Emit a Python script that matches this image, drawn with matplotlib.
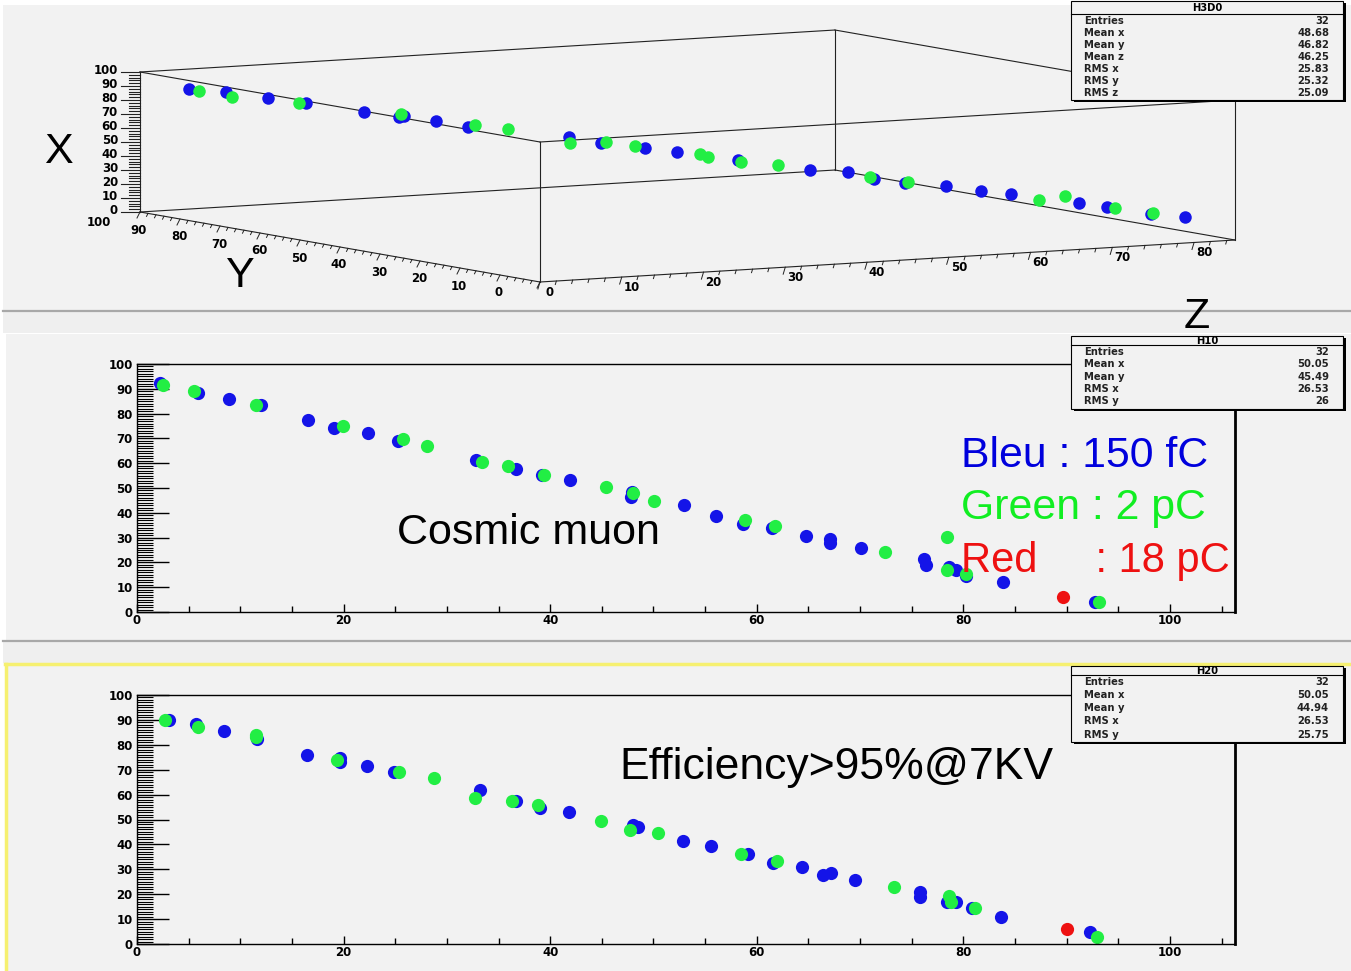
import numpy as np
import matplotlib
matplotlib.use('Agg')
import matplotlib.pyplot as plt
from matplotlib.patches import Rectangle
from matplotlib.ticker import MultipleLocator

W, H = 1351, 971

# ---- top pad: H3D0, points as (X, Y, Z)
b3_x = [88.5, 87.1, 84.0, 80.7, 75.3, 72.4, 73.4, 70.6, 66.9, 61.2, 57.9, 54.7, 52.4,
        48.1, 42.2, 41.7, 36.8, 34.9, 33.5, 30.6, 28.5, 23.5, 21.0, 17.1, 15.7]
b3_y = [95.6, 92.1, 88.3, 84.8, 79.5, 76.3, 75.9, 73.0, 70.0, 60.8, 57.9, 53.9, 51.0,
        45.4, 38.8, 35.3, 32.9, 30.1, 26.4, 23.2, 20.5, 14.3, 11.7, 7.6, 4.6]
b3_z = [3.8, 6.7, 9.9, 12.9, 17.4, 20.1, 20.5, 23.0, 25.5, 33.3, 35.8, 39.2, 41.7,
        46.4, 52.0, 55.0, 57.0, 59.4, 62.6, 65.3, 67.6, 72.9, 75.1, 78.5, 81.1]
g3_x = [87.7, 83.6, 81.0, 74.6, 68.3, 66.0, 57.4, 58.3, 56.2, 51.5, 49.9, 46.9, 45.2,
        38.1, 35.7, 25.0, 28.3, 20.5, 18.0]
g3_y = [94.6, 91.6, 85.5, 76.2, 69.5, 66.4, 60.7, 57.4, 54.8, 48.8, 48.2, 45.1, 41.7,
        33.3, 29.9, 17.9, 15.5, 10.9, 7.5]
g3_z = [4.6, 7.2, 12.3, 20.3, 26.0, 28.6, 33.4, 36.2, 38.4, 43.5, 44.1, 46.7, 49.5,
        56.7, 59.6, 69.8, 71.8, 75.7, 78.6]

# ---- middle pad: H10
h10_blue_x = [2.2, 5.9, 8.9, 12.0, 16.6, 19.1, 22.4, 25.3, 32.8, 36.7, 39.2, 41.9, 47.9, 47.8, 53.0,
              56.1, 58.7, 61.5, 64.8, 67.1, 67.1, 70.1, 76.2, 76.4, 78.6, 79.3, 80.3, 83.8, 92.7]
h10_blue_y = [92.3, 88.4, 86.0, 83.6, 77.3, 74.3, 72.0, 69.1, 61.3, 57.7, 55.1, 53.1, 48.5, 46.4, 43.3,
              38.8, 35.4, 33.8, 30.7, 29.4, 27.8, 25.7, 21.4, 19.0, 18.0, 17.1, 14.4, 12.0, 4.0]
h10_green_x = [2.5, 5.5, 11.5, 19.9, 25.8, 28.1, 33.4, 35.9, 39.4, 45.4, 48.0, 50.1,
               58.9, 61.8, 72.4, 78.4, 78.4, 80.3, 93.1]
h10_green_y = [91.6, 89.1, 83.6, 75.1, 69.6, 67.1, 60.4, 58.8, 55.1, 50.3, 48.0, 44.9,
               37.2, 34.5, 24.1, 30.1, 17.1, 15.4, 4.0]
h10_red_x = [89.6]
h10_red_y = [6.0]

# ---- bottom pad: H20
h20_blue_x = [3.1, 5.7, 8.4, 11.6, 16.5, 19.7, 19.7, 22.3, 24.9, 33.2, 36.7, 39.0, 41.8, 48.0, 48.5,
              52.9, 55.6, 59.2, 61.6, 64.4, 66.4, 67.2, 69.5, 75.8, 75.8, 78.4, 79.3, 80.8, 83.6, 92.3]
h20_blue_y = [90.0, 88.4, 85.4, 82.3, 76.0, 74.6, 73.0, 71.4, 68.9, 61.9, 57.6, 54.5, 52.9, 47.8, 47.1,
              41.4, 39.4, 36.1, 32.4, 30.8, 27.7, 28.4, 25.7, 21.0, 18.7, 17.0, 17.0, 14.3, 10.7, 4.7]
h20_green_x = [2.7, 5.9, 11.5, 11.5, 19.4, 25.4, 28.8, 32.7, 36.3, 38.8, 44.9, 47.7, 50.4,
               58.5, 62.0, 73.3, 78.6, 78.8, 81.1, 92.9]
h20_green_y = [90.0, 87.0, 84.1, 83.0, 74.0, 68.9, 66.7, 58.6, 57.6, 56.0, 49.3, 45.9, 44.6,
               36.1, 33.5, 23.0, 19.3, 17.0, 14.3, 2.9]
h20_red_x = [90.0]
h20_red_y = [6.0]

stats_h3d = [('Entries', '32'), ('Mean x', '48.68'), ('Mean y', '46.82'), ('Mean z', '46.25'),
             ('RMS x', '25.83'), ('RMS y', '25.32'), ('RMS z', '25.09')]
stats_h10 = [('Entries', '32'), ('Mean x', '50.05'), ('Mean y', '45.49'), ('RMS x', '26.53'), ('RMS y', '26')]
stats_h20 = [('Entries', '32'), ('Mean x', '50.05'), ('Mean y', '44.94'), ('RMS x', '26.53'), ('RMS y', '25.75')]

BLUE = '#1414e8'
GREEN = '#22ee44'
RED = '#ee1111'
PAD = '#f2f2f2'
TICKFONT = dict(family='DejaVu Sans', weight='bold', size=8.5)
STATFONT = dict(family='DejaVu Sans', weight='bold', size=7.2)
BIGFONT = 'Liberation Sans'


def add_px_axes(fig, left, top, right, bottom, **kw):
    return fig.add_axes([left / W, 1 - bottom / H, (right - left) / W, (bottom - top) / H], **kw)


def proj(x, y, z):
    # oblique projection of the ROOT 3D frame into pixel coordinates
    x, y, z = np.asarray(x), np.asarray(y), np.asarray(z)
    sx = 540 - 4.0 * y + 8.176 * z
    sy = 282 - 0.7 * y - 0.494 * z - 1.4 * x
    return sx, sy


def draw_stats(ax, left, top, div, right, bottom, title, rows):
    ax.add_patch(Rectangle((left + 2.5, top + 2.5), right - left, bottom - top, fc='black', ec='none', zorder=5))
    ax.add_patch(Rectangle((left, top), right - left, bottom - top, fc=PAD, ec='black', lw=0.8, zorder=6))
    ax.plot([left, right], [div, div], color='black', lw=0.8, zorder=7)
    ax.text((left + right) / 2, (top + div) / 2 + 0.5, title, ha='center', va='center',
            zorder=7, **STATFONT)
    ys = np.linspace(div + 7, bottom - 7.5, len(rows))
    for (name, val), yy in zip(rows, ys):
        ax.text(left + 13, yy, name, ha='left', va='center', color='#222222', zorder=7, **STATFONT)
        ax.text(right - 14, yy, val, ha='right', va='center', color='#222222', zorder=7, **STATFONT)


def style_2d(ax):
    ax.set_xlim(0, 106.3)
    ax.set_ylim(0, 100)
    ax.set_facecolor('none')
    for s in ['left', 'bottom', 'top']:
        ax.spines[s].set_linewidth(1.0)
    ax.spines['right'].set_linewidth(2.0)
    ax.xaxis.set_major_locator(MultipleLocator(20))
    ax.xaxis.set_minor_locator(MultipleLocator(5))
    ax.yaxis.set_major_locator(MultipleLocator(10))
    ax.yaxis.set_minor_locator(MultipleLocator(1))
    ax.tick_params(axis='x', which='major', direction='in', length=6, width=1, pad=1.5)
    ax.tick_params(axis='x', which='minor', direction='in', length=4, width=1)
    ax.tick_params(axis='y', which='major', direction='in', length=23, width=1, pad=3)
    ax.tick_params(axis='y', which='minor', direction='in', length=11.5, width=0.8)
    for lab in ax.get_xticklabels() + ax.get_yticklabels():
        lab.set_fontfamily(TICKFONT['family'])
        lab.set_fontweight(TICKFONT['weight'])
        lab.set_fontsize(TICKFONT['size'])


fig = plt.figure(figsize=(W / 100, H / 100), dpi=100)
fig.patch.set_facecolor('white')

# background + 3D pad, pixel coordinates
bg = add_px_axes(fig, 0, 0, W, H, zorder=0)
bg.set_xlim(0, W)
bg.set_ylim(H, 0)
bg.axis('off')

bg.add_patch(Rectangle((3, 5), W, 305, fc=PAD, ec='none'))
bg.add_patch(Rectangle((3, 312), W, 21, fc='#efefef', ec='none'))
bg.add_patch(Rectangle((6, 334), W, 306, fc=PAD, ec='none'))
bg.add_patch(Rectangle((3, 642), W, 21, fc='#efefef', ec='none'))
bg.add_patch(Rectangle((5, 664), W, 310, fc=PAD, ec='none'))
bg.plot([3, W], [311, 311], color='#a8a8a8', lw=1.6)
bg.plot([3, W], [641.5, 641.5], color='#a8a8a8', lw=1.6)
bg.plot([5, W], [664.5, 664.5], color='#f6f070', lw=2.5)
bg.plot([5.5, 5.5], [664, H], color='#f6f070', lw=2.5)

# 3D frame edges
xr, yr, zr = (0, 100), (0, 100), (0, 85)
corners = [(a, b, c) for a in xr for b in yr for c in zr]
for p in corners:
    for q in corners:
        if sum(pi != qi for pi, qi in zip(p, q)) == 1 and p < q:
            sx, sy = proj([p[0], q[0]], [p[1], q[1]], [p[2], q[2]])
            bg.plot(sx, sy, color='#222222', lw=0.8, zorder=2)

# X axis (vertical) ticks
for v in range(0, 101, 2):
    sx, sy = proj(v, 100, 0)
    ln = 19 if v % 10 == 0 else 11
    bg.plot([sx - ln, sx], [sy, sy], color='#222222', lw=0.8, zorder=2)
    if v % 10 == 0:
        bg.text(sx - 22, sy - 1, str(v), ha='right', va='center', zorder=3, **TICKFONT)
# Y axis ticks
for v in range(0, 101, 2):
    sx, sy = proj(0, v, 0)
    d = 6 if v % 10 == 0 else 3
    bg.plot([sx, sx - d * 0.5], [sy, sy + d], color='#222222', lw=0.7, zorder=2)
    if v % 10 == 0:
        bg.text(sx - 41, sy + 11, str(v), ha='center', va='center', zorder=3, **TICKFONT)
# Z axis ticks
for v in range(0, 85, 2):
    sx, sy = proj(0, 0, v)
    d = 7 if v % 10 == 0 else 3.5
    bg.plot([sx, sx - d * 0.3], [sy, sy + d], color='#222222', lw=0.7, zorder=2)
    if v % 10 == 0:
        bg.text(sx + 10, sy + 10, str(v), ha='center', va='center', zorder=3, **TICKFONT)

sx, sy = proj(b3_x, b3_y, b3_z)
bg.plot(sx, sy, 'o', ms=9, color=BLUE, mec='none', zorder=4)
sx, sy = proj(g3_x, g3_y, g3_z)
bg.plot(sx, sy, 'o', ms=9, color=GREEN, mec='none', zorder=4)

# 2D pads
mid = add_px_axes(fig, 137, 364, 1235, 612, zorder=1)
mid.plot(h10_blue_x, h10_blue_y, 'o', ms=9.5, color=BLUE, mec='none')
mid.plot(h10_green_x, h10_green_y, 'o', ms=9.5, color=GREEN, mec='none')
mid.plot(h10_red_x, h10_red_y, 'o', ms=9.5, color=RED, mec='none')
style_2d(mid)

bot = add_px_axes(fig, 137, 695, 1235, 944, zorder=1)
bot.plot(h20_blue_x, h20_blue_y, 'o', ms=9.5, color=BLUE, mec='none')
bot.plot(h20_green_x, h20_green_y, 'o', ms=9.5, color=GREEN, mec='none')
bot.plot(h20_red_x, h20_red_y, 'o', ms=9.5, color=RED, mec='none')
style_2d(bot)

# foreground: stats boxes and annotations
fg = add_px_axes(fig, 0, 0, W, H, zorder=2)
fg.set_xlim(0, W)
fg.set_ylim(H, 0)
fg.set_facecolor('none')
fg.axis('off')

draw_stats(fg, 1071, 1, 14, 1343, 100, 'H3D0', stats_h3d)
draw_stats(fg, 1071, 336, 345, 1343, 409, 'H10', stats_h10)
draw_stats(fg, 1071, 666, 675, 1343, 742, 'H20', stats_h20)

fg.text(58, 152, 'X', ha='center', va='center', fontsize=31, family=BIGFONT)
fg.text(240, 276, 'Y', ha='center', va='center', fontsize=31, family=BIGFONT)
fg.text(1197, 317, 'Z', ha='center', va='center', fontsize=31, family=BIGFONT)

fg.text(528, 533, 'Cosmic muon', ha='center', va='center', fontsize=31, family=BIGFONT)
fg.text(961, 456, 'Bleu : 150 fC', ha='left', va='center', fontsize=30.8, family=BIGFONT, color='#0000dd')
fg.text(961, 508, 'Green : 2 pC', ha='left', va='center', fontsize=30.8, family=BIGFONT, color='#11ee22')
fg.text(961, 561, 'Red     : 18 pC', ha='left', va='center', fontsize=30, family=BIGFONT, color='#ee1111')
fg.text(836, 768, 'Efficiency>95%@7KV', ha='center', va='center', fontsize=32, family=BIGFONT)

fig.savefig('out.png', dpi=100)
